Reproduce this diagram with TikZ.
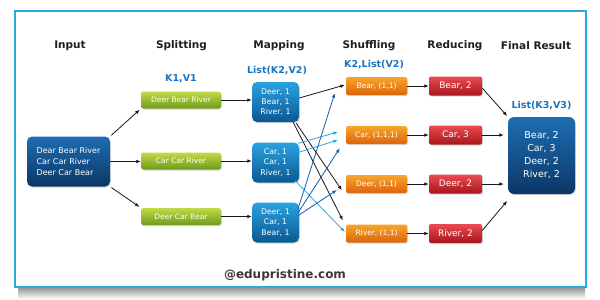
\documentclass[tikz,border=0pt]{standalone}
\usepackage{fontspec}
\setmainfont{DejaVu Sans}
\usetikzlibrary{arrows.meta,calc,shadows}
\definecolor{frameblue}{HTML}{29ABE2}
\definecolor{labblue}{HTML}{1B75BC}
\definecolor{dkT}{HTML}{1E6DB2}
\definecolor{dkB}{HTML}{0A3766}
\definecolor{mpT}{HTML}{2AA2E0}
\definecolor{mpB}{HTML}{0B5893}
\definecolor{grT}{HTML}{C2DA48}
\definecolor{grB}{HTML}{6F9A1B}
\definecolor{orT}{HTML}{F9A52C}
\definecolor{orB}{HTML}{DC640A}
\definecolor{rdT}{HTML}{EA4B50}
\definecolor{rdB}{HTML}{A8161D}
\definecolor{lightarr}{HTML}{2AA8E2}
\definecolor{darkarr}{HTML}{1A5DA6}
\begin{document}
\begin{tikzpicture}[x=1pt,y=-1pt,
  box/.style={inner sep=0pt, text=white, rounded corners=2pt,
    drop shadow={opacity=0.3,shadow xshift=0.8pt,shadow yshift=-1.2pt}},
  inbox/.style={box, rounded corners=5pt, top color=dkT, bottom color=dkB,
    minimum width=83pt, minimum height=50pt, align=left,
    font=\fontsize{8}{11.3}\selectfont},
  finbox/.style={box, rounded corners=6pt, top color=dkT, bottom color=dkB,
    minimum width=67pt, minimum height=77pt, align=center,
    font=\fontsize{9.5}{13}\selectfont},
  splitbox/.style={box, rounded corners=2.5pt, top color=grT, bottom color=grB,
    minimum width=80pt, minimum height=17pt, text=white!95!yellow,
    font=\fontsize{7.5}{9}\selectfont},
  mapbox/.style={box, rounded corners=5pt, top color=mpT, bottom color=mpB,
    minimum width=47pt, minimum height=40pt, align=center,
    font=\fontsize{7.8}{10.3}\selectfont},
  shufbox/.style={box, top color=orT, bottom color=orB,
    minimum width=61pt, minimum height=18pt,
    font=\fontsize{7.5}{9}\selectfont},
  redbox/.style={box, top color=rdT, bottom color=rdB,
    minimum width=53pt, minimum height=19pt,
    font=\fontsize{9}{11}\selectfont},
  head/.style={font=\bfseries\fontsize{10.5}{12}\selectfont, text=black!88, inner sep=0pt},
  lab/.style={font=\bfseries\fontsize{9.5}{11}\selectfont, text=labblue, inner sep=0pt},
  arr/.style={-{Latex[length=4.5pt,width=3.6pt]}, line width=0.8pt, draw=black!90},
  larr/.style={arr, draw=lightarr},
  darr/.style={arr, draw=darkarr}
]
\useasboundingbox (0,0) rectangle (600,300);
\fill[white] (0,0) rectangle (600,300);
% frame with shadow
\shade[top color=black!40, bottom color=white] (18,288) rectangle (585,299);
\draw[frameblue, line width=2.5pt] (15,11) rectangle (586,287);

% headers
\node[head] (hIn) at (70,46) {Input};
\node[head] (hSp) at (181.5,46) {Splitting};
\node[head] (hMp) at (279,46) {Mapping};
\node[head] (hSh) at (369,46) {Shuffling};
\node[head] (hRd) at (455,46) {Reducing};
\node[head] (hFn) at (536,46) {Final Result};

% labels
\node[lab] (l1) at (181,79) {K1,V1};
\node[lab] (l2) at (277,71) {List(K2,V2)};
\node[lab] (l3) at (374,65) {K2,List(V2)};
\node[lab] (l4) at (541.5,106) {List(K3,V3)};

% input
\node[inbox] (in) at (68.5,161.5) {Dear Bear River\\Car Car River\\Deer Car Bear};

% splitting
\node[splitbox] (s1) at (181,100) {Deer Bear River};
\node[splitbox] (s2) at (181,161) {Car Car River};
\node[splitbox] (s3) at (181,216.5) {Deer Car Bear};

% mapping
\node[mapbox] (m1) at (275.5,102) {Deer, 1\\Bear, 1\\River, 1};
\node[mapbox] (m2) at (275.5,162.5) {Car, 1\\Car, 1\\River, 1};
\node[mapbox] (m3) at (275.5,222.5) {Deer, 1\\Car, 1\\Bear, 1};

% shuffling
\node[shufbox] (h1) at (376.5,86) {Bear, (1,1)};
\node[shufbox] (h2) at (376.5,135) {Car, (1,1,1)};
\node[shufbox] (h3) at (376.5,184) {Deer, (1,1)};
\node[shufbox] (h4) at (376.5,233.5) {River, (1,1)};

% reducing
\node[redbox] (r1) at (455.5,86) {Bear, 2};
\node[redbox] (r2) at (455.5,135) {Car, 3};
\node[redbox] (r3) at (455.5,184) {Deer, 2};
\node[redbox] (r4) at (455.5,233.5) {River, 2};

% final
\node[finbox] (fin) at (541.5,155.5) {Bear, 2\\Car, 3\\Deer, 2\\River, 2};

% watermark
\node[font=\bfseries\fontsize{12}{14}\selectfont, text=black!78, inner sep=0pt] (wm) at (285,275) {@edupristine.com};

% input -> splitting
\draw[arr, shorten <=1.5pt, shorten >=1.5pt] (in.north east) -- (s1.south west);
\draw[arr] (in.east) -- (in.east -| s2.west);
\draw[arr, shorten <=1.5pt, shorten >=1.5pt] (in.south east) -- (s3.north west);

% splitting -> mapping
\draw[arr] (s1.east) -- (s1.east -| m1.west);
\draw[arr] (s2.east) -- (s2.east -| m2.west);
\draw[arr] (s3.east) -- (s3.east -| m3.west);

% mapping -> shuffling
\draw[arr] ($(m1.east)+(0,-4)$) -- ($(h1.west)+(-1,-1)$);
\draw[arr] ($(m1.south east)+(-3,1)$) -- ($(h3.south west)+(-4,-3)$);
\draw[arr] ($(m1.south east)+(-6,0)$) -- ($(h4.north west)+(-3,-4)$);
\draw[larr] ($(m2.north east)+(-1,1)$) -- ($(h2.west)+(-8,-3)$);
\draw[larr] ($(m2.east)+(-1,-10)$) -- ($(h2.west)+(-8,5)$);
\draw[larr] ($(m2.south east)+(-4,-2)$) -- ($(h4.west)+(-1,-1.5)$);
\draw[darr] ($(m3.east)+(-1,-14)$) -- ($(h1.south west)+(-11,-2)$);
\draw[darr] ($(m3.east)+(-1,-10)$) -- ($(h2.south west)+(-6,4)$);
\draw[darr] ($(m3.east)+(-1,-7)$) -- ($(h3.west)+(-9,6)$);

% shuffling -> reducing
\draw[arr] (h1.east) -- (h1.east -| r1.west);
\draw[arr] (h2.east) -- (h2.east -| r2.west);
\draw[arr] (h3.east) -- (h3.east -| r3.west);
\draw[arr] (h4.east) -- (h4.east -| r4.west);

% reducing -> final
\draw[arr, shorten >=1pt] ($(r1.east)+(0,2)$) -- (fin.north west);
\draw[arr, shorten >=4pt] (r2.east) -- (r2.east -| fin.west);
\draw[arr, shorten >=4pt] (r3.east) -- (r3.east -| fin.west);
\draw[arr, shorten >=1pt] ($(r4.east)+(0,-3)$) -- ($(fin.south west)+(0,6)$);
\end{tikzpicture}
\end{document}
